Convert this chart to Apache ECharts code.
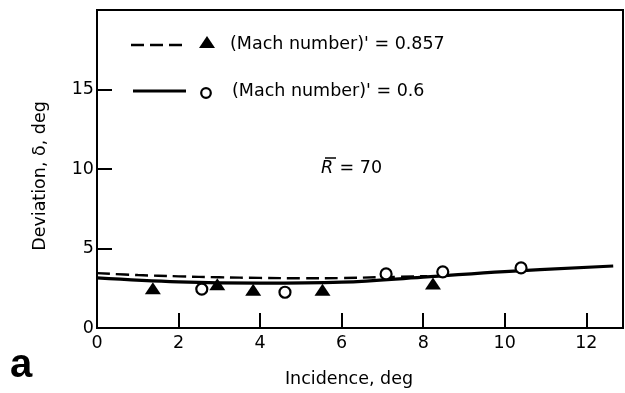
<!DOCTYPE html>
<html>
<head>
<meta charset="utf-8">
<script src="https://cdn.jsdelivr.net/npm/echarts@6/dist/echarts.min.js"></script>
<style>
  html, body { margin: 0; padding: 0; background: #fff; }
  #chart { width: 625px; height: 393px; }
</style>
</head>
<body>
<div id="chart"></div>
<script>
// fitted curves
const curveX857 = [0, 1, 2, 3, 4, 5, 6, 7, 8.1]
const curveY857 = [3.45, 3.33, 3.25, 3.19, 3.15, 3.13, 3.14, 3.2, 3.26]
const curveX06 = [0, 2, 4, 6, 8, 10, 12.66]
const curveY06 = [3.15, 2.9, 2.82, 2.88, 3.2, 3.55, 3.9]

// measured points
const incidence857 = [1.37, 2.95, 3.83, 5.53, 8.24]
const deviation857 = [2.5, 2.75, 2.4, 2.4, 2.8]
const incidence06 = [2.57, 4.61, 7.09, 8.48, 10.4]
const deviation06 = [2.45, 2.25, 3.4, 3.53, 3.78]

const xTicks = [0, 2, 4, 6, 8, 10, 12]
const yTicks = [0, 5, 10, 15]
const legendLabels = ["(Mach number)' = 0.857", "(Mach number)' = 0.6"]

const font = 'DejaVu Sans'
const fs = 17.5

const pairs = (xs, ys) => xs.map((x, i) => [x, ys[i]])

const chart = echarts.init(document.getElementById('chart'))

chart.setOption({
  animation: false,
  grid: {
    left: 97,
    top: 10,
    right: 2,
    bottom: 62,
    show: true,
    borderColor: '#000',
    borderWidth: 2,
  },
  xAxis: {
    type: 'value',
    min: 0,
    max: 12.9,
    interval: 2,
    splitLine: { show: false },
    axisLine: { lineStyle: { color: '#000', width: 2 } },
    axisTick: { inside: true, length: 15, lineStyle: { color: '#000', width: 2 } },
    axisLabel: {
      color: '#000',
      fontFamily: font,
      fontSize: fs,
      margin: 6,
      showMaxLabel: false,
      formatter: (v) => (xTicks.includes(v) ? String(v) : ''),
    },
    name: 'Incidence, deg',
    nameLocation: 'middle',
    nameGap: 42,
    nameTextStyle: { color: '#000', fontFamily: font, fontSize: fs, padding: [0, 22, 0, 0] },
  },
  yAxis: {
    type: 'value',
    min: 0,
    max: 20,
    interval: 5,
    splitLine: { show: false },
    axisLine: { lineStyle: { color: '#000', width: 2 } },
    axisTick: { inside: true, length: 15, lineStyle: { color: '#000', width: 2 } },
    axisLabel: {
      color: '#000',
      fontFamily: font,
      fontSize: fs,
      margin: 3,
      showMaxLabel: false,
      formatter: (v) => (yTicks.includes(v) ? String(v) : ''),
    },
    name: 'Deviation, \u03b4, deg',
    nameLocation: 'middle',
    nameGap: 48,
    nameTextStyle: { color: '#000', fontFamily: font, fontSize: fs, padding: [0, 14, 0, 0] },
  },
  series: [
    {
      type: 'line',
      data: pairs(curveX857, curveY857),
      smooth: 0.4,
      symbol: 'none',
      lineStyle: { color: '#000', width: 2.4, type: [13, 6] },
      z: 2,
    },
    {
      type: 'line',
      data: pairs(curveX06, curveY06),
      smooth: 0.4,
      symbol: 'none',
      lineStyle: { color: '#000', width: 3.2 },
      z: 2,
    },
    {
      type: 'scatter',
      data: pairs(incidence857, deviation857),
      symbol: 'triangle',
      symbolSize: [16, 12],
      itemStyle: { color: '#000', opacity: 1 },
      z: 3,
    },
    {
      type: 'scatter',
      data: pairs(incidence06, deviation06),
      symbol: 'circle',
      symbolSize: 11,
      itemStyle: { color: '#fff', borderColor: '#000', borderWidth: 2.2, opacity: 1 },
      z: 4,
    },
  ],
  graphic: [
    // legend
    { type: 'line', shape: { x1: 131, y1: 45, x2: 186, y2: 45 }, style: { stroke: '#000', lineWidth: 2.4, lineDash: [13, 6] } },
    { type: 'polygon', shape: { points: [[207, 36], [199, 48], [215, 48]] }, style: { fill: '#000' } },
    { type: 'text', left: 230, top: 35, style: { text: legendLabels[0], fill: '#000', font: fs + 'px "DejaVu Sans"' } },
    { type: 'line', shape: { x1: 133, y1: 91, x2: 186, y2: 91 }, style: { stroke: '#000', lineWidth: 3.2 } },
    { type: 'circle', shape: { cx: 206, cy: 93, r: 4.8 }, style: { fill: '#fff', stroke: '#000', lineWidth: 2.2 } },
    { type: 'text', left: 232, top: 82, style: { text: legendLabels[1], fill: '#000', font: fs + 'px "DejaVu Sans"' } },
    // R bar annotation
    { type: 'text', left: 321, top: 159, style: { text: 'R', fill: '#000', font: 'oblique ' + fs + 'px "DejaVu Sans"' } },
    { type: 'line', shape: { x1: 325, y1: 158, x2: 336, y2: 158 }, style: { stroke: '#000', lineWidth: 1.5 } },
    { type: 'text', left: 334, top: 159, style: { text: ' = 70', fill: '#000', font: fs + 'px "DejaVu Sans"' } },
    // panel letter
    { type: 'text', left: 10, top: 346, style: { text: 'a', fill: '#000', font: 'bold 40px "Liberation Sans"' } },
  ],
})
</script>
</body>
</html>
